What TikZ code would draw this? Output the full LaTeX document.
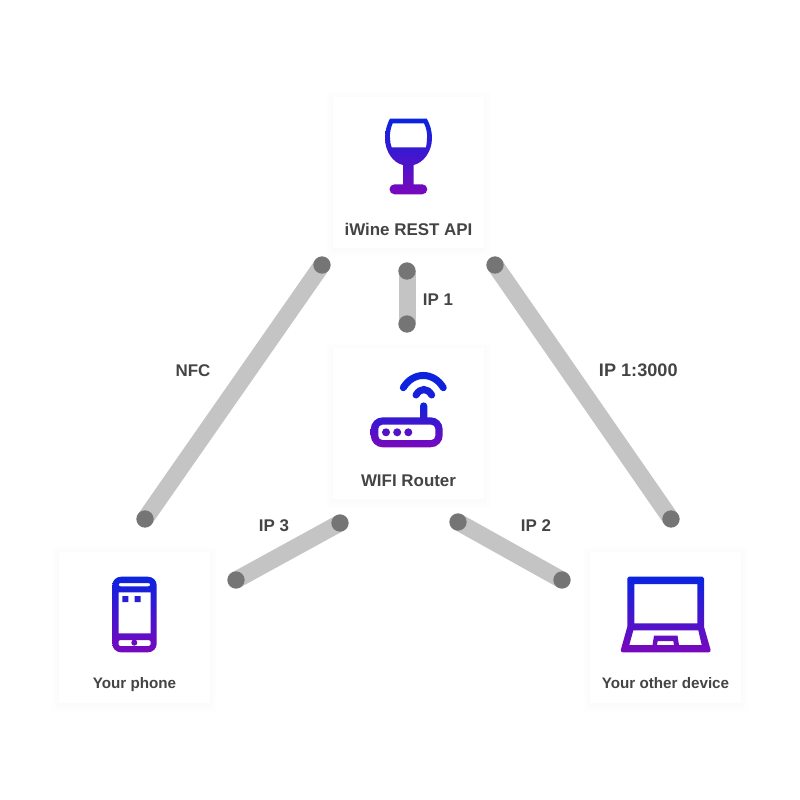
\documentclass[tikz,border=0pt]{standalone}
\usepackage{fontspec}
\setmainfont{Liberation Sans}
\usetikzlibrary{backgrounds}
\definecolor{icontop}{RGB}{10,36,224}
\definecolor{iconbot}{RGB}{122,8,188}
\definecolor{wifione}{RGB}{14,34,222}
\definecolor{wifitwo}{RGB}{24,30,218}
\definecolor{linkgray}{RGB}{196,196,196}
\definecolor{dotgray}{RGB}{117,117,117}
\definecolor{textgray}{RGB}{68,68,68}
\tikzset{
  card/.style={fill=white,draw=none,minimum width=113.25pt,minimum height=113.25pt,inner sep=0pt,outer sep=0pt},
  labeltext/.style={text=textgray,inner sep=0pt,anchor=base},
  bigtext/.style={labeltext,font=\fontsize{12.7}{14}\selectfont\bfseries},
  smalltext/.style={labeltext,font=\fontsize{11.4}{14}\selectfont\bfseries},
  widetext/.style={labeltext,font=\fontsize{13.6}{14}\selectfont\bfseries},
  enddot/.style={circle,fill=dotgray,draw=none,minimum size=13pt,inner sep=0pt,outer sep=0pt},
  linkbar/.style={draw=linkgray,line width=12.75pt},
  icon/.style={even odd rule,top color=icontop,bottom color=iconbot,draw=none},
  wifiarc/.style={line width=5.25pt,line cap=round},
  softshadow/.style={fill=black,fill opacity=0.005,draw=none}
}
\newcommand{\softbox}[2]{%
  \foreach \g in {1,3,5,7}{%
    \fill[softshadow] ({#1-75.5-\g},{#2-75.5-\g+2}) rectangle ({#1+75.5+\g},{#2+75.5+\g+2});
  }%
}
\begin{document}
\begin{tikzpicture}[x=0.75pt,y=-0.75pt]
\useasboundingbox (0,0) rectangle (800,800);
% card shadows
\softbox{408.5}{172.5}
\softbox{408.5}{423.5}
\softbox{134.5}{627.5}
\softbox{665.5}{627.5}
% cards
\node[card] (api) at (408.5,172.5) {};
\node[card] (router) at (408.5,423.5) {};
\node[card] (phone) at (134.5,627.5) {};
\node[card] (laptop) at (665.5,627.5) {};
% card labels
\node[bigtext] (apitext) at (408.5,235) {iWine REST API};
\node[bigtext] (routertext) at (408.5,486) {WIFI Router};
\node[smalltext] (phonetext) at (134.5,688) {Your phone};
\node[smalltext] (laptoptext) at (665.5,688) {Your other device};
% wine glass
\path[icon] (390,118.5) -- (426.7,118.5)
  .. controls (430,124) and (432,131) .. (432,138)
  .. controls (432,152) and (423,163) .. (413.5,165)
  -- (413.5,184.3) -- (422.3,184.3)
  .. controls (425,184.3) and (427.3,186.5) .. (427.3,189.3)
  .. controls (427.3,192) and (425,194.3) .. (422.3,194.3)
  -- (394.5,194.3)
  .. controls (391.7,194.3) and (389.5,192) .. (389.5,189.3)
  .. controls (389.5,186.5) and (391.7,184.3) .. (394.5,184.3)
  -- (403,184.3) -- (403,165)
  .. controls (393.5,163) and (385,152) .. (385,138)
  .. controls (385,131) and (387,124) .. (390,118.5) -- cycle
  (392.7,123.3) -- (424,123.3)
  .. controls (426,127) and (427.5,133) .. (427,138)
  .. controls (427,141) and (426.5,145) .. (426,147.3)
  -- (391.7,147.3)
  .. controls (390.7,145) and (390,141) .. (390,138)
  .. controls (389.5,133) and (391,127) .. (392.7,123.3) -- cycle;
% router
\draw[wifiarc,draw=wifione] (403.3,387.7) .. controls (413,371.4) and (433.6,371.4) .. (443.3,387.7);
\draw[wifiarc,draw=wifitwo] (416,395) .. controls (420.5,387.7) and (427.2,387.7) .. (431.7,395);
\path[icon] (382.7,417.3) -- (420,417.3) -- (420,406)
  .. controls (420,401.2) and (427.3,401.2) .. (427.3,406)
  -- (427.3,417.3) -- (430.7,417.3)
  .. controls (437.3,417.3) and (442.7,422.7) .. (442.7,429.3)
  -- (442.7,435.3)
  .. controls (442.7,441.9) and (437.3,447.3) .. (430.7,447.3)
  -- (382.7,447.3)
  .. controls (376.1,447.3) and (370.7,441.9) .. (370.7,435.3)
  -- (370.7,429.3)
  .. controls (370.7,422.7) and (376.1,417.3) .. (382.7,417.3) -- cycle
  {[rounded corners=3pt] (378.3,424.7) rectangle (435.3,440)}
  (386,432.3) circle [radius=4]
  (397.2,432.3) circle [radius=4]
  (408.3,432.3) circle [radius=4];
% phone
\path[icon] {[rounded corners=6.5pt] (112.3,576.7) rectangle (156.7,652.3)}
  {[rounded corners=1.5pt] (118.5,583) rectangle (150.3,586.3)}
  (118.5,592.3) rectangle (150.5,633.3)
  (122.3,596) rectangle (128.3,602)
  (134.7,596) rectangle (140.7,602)
  {[rounded corners=1pt] (118.5,640) rectangle (150.5,646)}
  (134.3,642.7) circle [radius=3];
% laptop
\path[icon] (629,576.7) -- (702.3,576.7)
  .. controls (703.3,576.7) and (704,577.4) .. (704,578.4)
  -- (704,626.7) -- (710.5,649.5)
  .. controls (711,651) and (710.2,652.3) .. (708.7,652.3)
  -- (622.7,652.3)
  .. controls (621.2,652.3) and (620.4,651) .. (620.9,649.5)
  -- (627.3,626.7) -- (627.3,578.4)
  .. controls (627.3,577.4) and (628,576.7) .. (629,576.7) -- cycle
  (634.3,584) rectangle (697.3,623.3)
  (633.3,630.3) -- (698.3,630.3) -- (701.7,645) -- (679,645) -- (677.5,635.7)
  -- (654,635.7) -- (652.5,645) -- (629.3,645) -- cycle
  (657.7,641) -- (673.3,641) -- (674,645) -- (657,645) -- cycle;
% connector ends
\node[enddot] (nfcA) at (322,265) {};
\node[enddot] (nfcB) at (145,519) {};
\node[enddot] (ipA) at (407,271) {};
\node[enddot] (ipB) at (407,324) {};
\node[enddot] (farA) at (495,265) {};
\node[enddot] (farB) at (671,519) {};
\node[enddot] (ipthreeA) at (340,523) {};
\node[enddot] (ipthreeB) at (236,580) {};
\node[enddot] (iptwoA) at (458,522) {};
\node[enddot] (iptwoB) at (562,580) {};
% connector bars under the dots
\begin{scope}[on background layer]
\draw[linkbar] (nfcA.center) -- (nfcB.center);
\draw[linkbar] (ipA.center) -- (ipB.center);
\draw[linkbar] (farA.center) -- (farB.center);
\draw[linkbar] (ipthreeA.center) -- (ipthreeB.center);
\draw[linkbar] (iptwoA.center) -- (iptwoB.center);
\end{scope}
% connector labels
\node[bigtext] (nfclabel) at (193,376) {NFC};
\node[bigtext] (iponelabel) at (438,305) {IP 1};
\node[widetext] (farlabel) at (638.3,376) {IP 1:3000};
\node[bigtext] (ipthreelabel) at (274,531) {IP 3};
\node[bigtext] (iptwolabel) at (536,531) {IP 2};
\end{tikzpicture}
\end{document}
